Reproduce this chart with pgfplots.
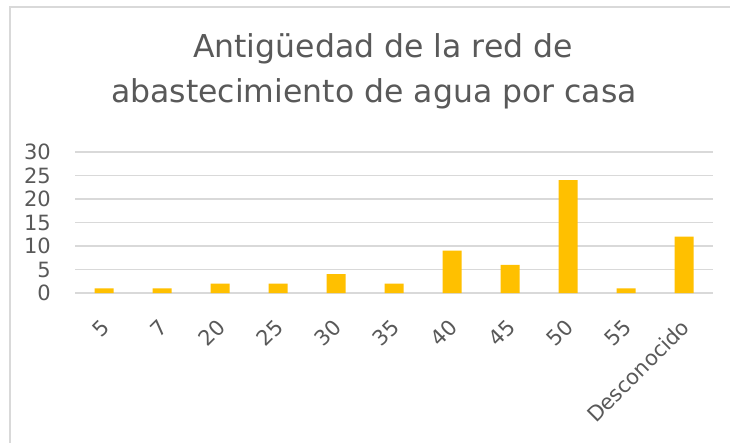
\documentclass[border=0pt]{standalone}
\usepackage{pgfplots}
\pgfplotsset{compat=1.18}
\usepackage{fontspec}
\setmainfont{DejaVu Sans}
\definecolor{bargold}{HTML}{FFC000}
\definecolor{txtgray}{HTML}{595959}
\definecolor{gridgray}{HTML}{D9D9D9}
\begin{document}
\begin{tikzpicture}[x=1pt,y=1pt]
\useasboundingbox (0,0) rectangle (730,442);
\fill[white] (0,0) rectangle (730,442);
\draw[gridgray, line width=1.5pt] (10,-20) -- (10,435) -- (760,435);
\node[anchor=base, font=\fontsize{31.5}{38}\selectfont, text=txtgray, inner sep=0pt] at (383,384) {Antigüedad de la red de};
\node[anchor=base, font=\fontsize{31.5}{38}\selectfont, text=txtgray, inner sep=0pt] at (374,339) {abastecimiento de agua por casa};
\begin{axis}[
  at={(75pt,149pt)}, anchor=south west,
  scale only axis, width=638pt, height=141pt,
  xmin=-0.5, xmax=10.5, ymin=0, ymax=30,
  ytick={0,5,...,30},
  xtick={0,...,10},
  xticklabels={5,7,20,25,30,35,40,45,50,55,Desconocido},
  ymajorgrids,
  grid style={gridgray, line width=1.4pt},
  axis y line*=left,
  y axis line style={draw=none},
  axis x line*=bottom,
  x axis line style={gridgray, line width=1.5pt, -},
  major tick length=0pt,
  tick style={draw=none},
  ticklabel style={text=txtgray, font=\fontsize{21}{24}\selectfont},
  /pgf/number format/assume math mode=true,
  yticklabel style={xshift=-23pt, inner sep=1pt},
  xticklabel style={rotate=45, anchor=north east, yshift=-11pt, xshift=-17pt},
  ybar, bar width=19pt,
  clip=false,
]
\addplot[fill=bargold, draw=none] coordinates {
(0,1) (1,1) (2,2) (3,2) (4,4) (5,2) (6,9) (7,6) (8,24) (9,1) (10,12)
};
\end{axis}
\end{tikzpicture}
\end{document}
